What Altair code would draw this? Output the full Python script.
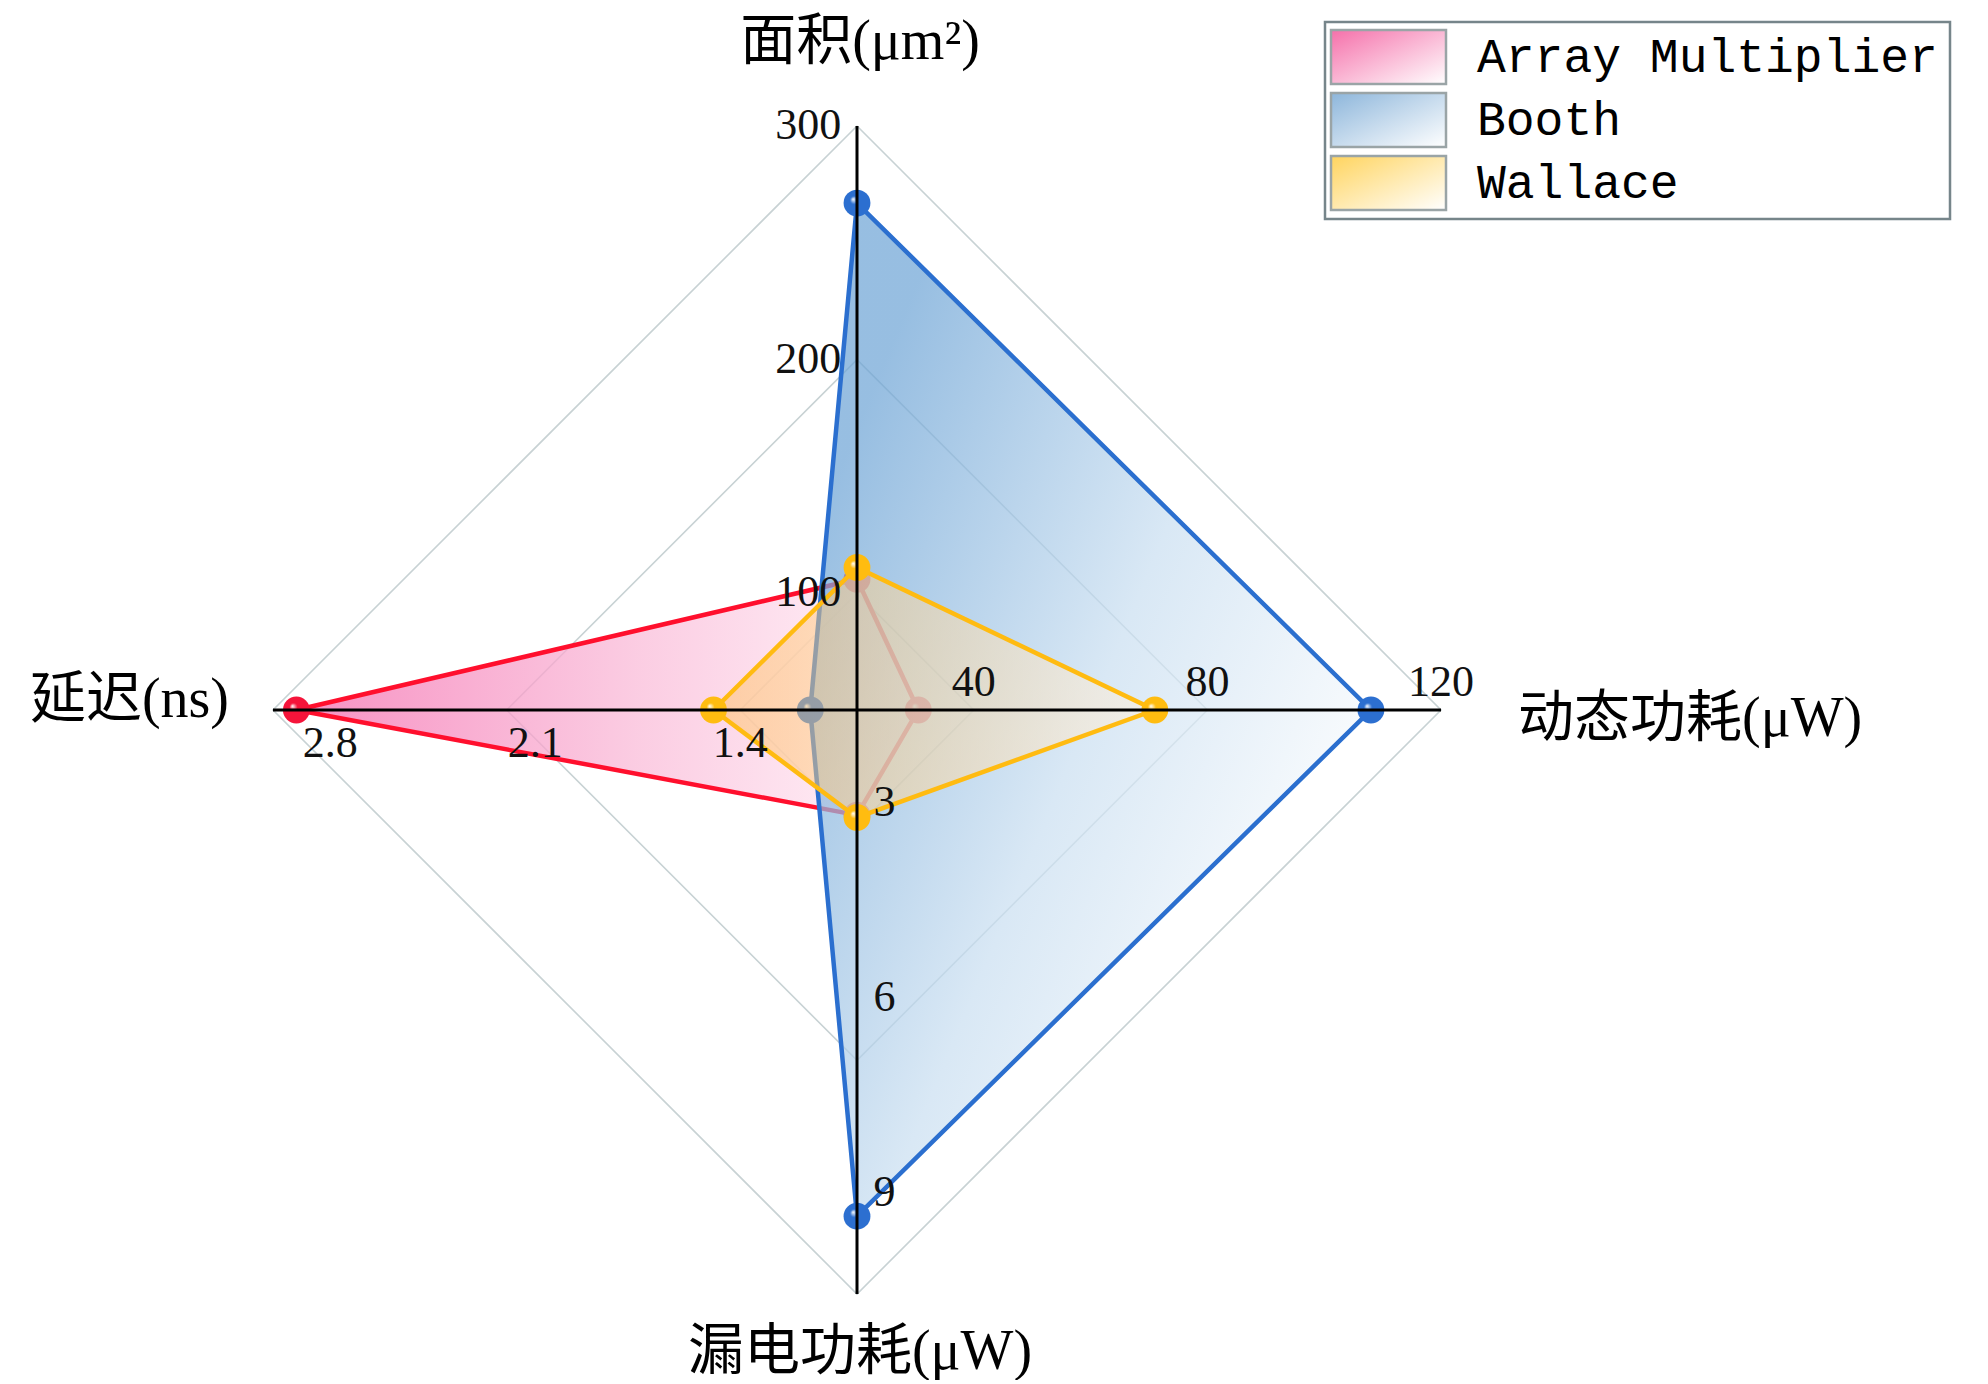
import math
import altair as alt
import pandas as pd

# ---------------- data ----------------
axis_titles = ["面积(μm²)", "动态功耗(μW)", "漏电功耗(μW)", "延迟(ns)"]
tick_area = [100, 200, 300]
tick_dynamic = [40, 80, 120]
tick_leakage = [3, 6, 9]
tick_delay = [1.4, 2.1, 2.8]

series_names = ["Array Multiplier", "Booth", "Wallace"]
area_vals = [106, 267, 111]
dynamic_vals = [30.5, 108, 71]
leakage_vals = [2.85, 8.0, 2.88]
delay_vals = [2.73, 1.19, 1.48]

# ---------------- layout / style ----------------
W, H = 1972, 1368
CX, CY, R = 849, 702, 584          # chart-pixel centre of radar and radius


def U(px):
    return (px - CX) / R


def V(py):
    return (CY - py) / R


def RX(x):  # reference (page) px -> unit
    return U(x - 8)


def RY(y):
    return V(y - 8)


xs = alt.Scale(domain=[U(0), U(W)], nice=False, zero=False)
ys = alt.Scale(domain=[V(H), V(0)], nice=False, zero=False)


def X(f="x"):
    return alt.X(f"{f}:Q", scale=xs, axis=None)


def Y(f="y"):
    return alt.Y(f"{f}:Q", scale=ys, axis=None)


axes = {
    "area": dict(ticks=tick_area, vals=area_vals, ang=90, title=axis_titles[0]),
    "dynamic": dict(ticks=tick_dynamic, vals=dynamic_vals, ang=0, title=axis_titles[1]),
    "leakage": dict(ticks=tick_leakage, vals=leakage_vals, ang=270, title=axis_titles[2]),
    "delay": dict(ticks=tick_delay, vals=delay_vals, ang=180, title=axis_titles[3]),
}


def norm(v, ticks):
    step = ticks[1] - ticks[0]
    lo = ticks[0] - step / 2.0
    return (v - lo) / (ticks[-1] - lo)


def pos(key, r):
    a = math.radians(axes[key]["ang"])
    return r * math.cos(a), r * math.sin(a)


ring_order = ["area", "dynamic", "leakage", "delay", "area"]
outline_order = ["delay", "area", "dynamic", "leakage", "delay"]

FONT_SERIF = "Liberation Serif"
FONT_TITLE = "Liberation Serif, Noto Sans CJK SC"
FONT_MONO = "Liberation Mono"

line_cols = ["#FF0F2D", "#2B6FCF", "#FFBB11"]
point_cols = ["#F5143A", "#2C6FD0", "#FFBC10"]
fill_grads = [
    {"gradient": "linear", "x1": 0, "y1": 0.5, "x2": 1, "y2": 0.5,
     "stops": [{"offset": 0, "color": "#F46CAE"}, {"offset": 0.55, "color": "#FABCD9"},
               {"offset": 1, "color": "#FFF0F7"}]},
    {"gradient": "linear", "x1": 0.1, "y1": 0.2, "x2": 0.9, "y2": 0.8,
     "stops": [{"offset": 0, "color": "#6FA5D6"}, {"offset": 0.5, "color": "#CADFF1"},
               {"offset": 1, "color": "#FFFFFF"}]},
    {"gradient": "linear", "x1": 0, "y1": 0.5, "x2": 1, "y2": 0.5,
     "stops": [{"offset": 0, "color": "#FFC060"}, {"offset": 1, "color": "#FFF1E0"}]},
]
fill_opac = [0.75, 0.72, 0.5]
legend_grads = [
    {"gradient": "linear", "x1": 0, "y1": 0, "x2": 1, "y2": 1,
     "stops": [{"offset": 0, "color": "#F570AA"}, {"offset": 1, "color": "#FFFFFF"}]},
    {"gradient": "linear", "x1": 0, "y1": 0, "x2": 1, "y2": 1,
     "stops": [{"offset": 0, "color": "#8DB6DB"}, {"offset": 1, "color": "#FFFFFF"}]},
    {"gradient": "linear", "x1": 0, "y1": 0, "x2": 1, "y2": 1,
     "stops": [{"offset": 0, "color": "#FFD45E"}, {"offset": 1, "color": "#FFFFFF"}]},
]

layers = []

# ---- grid rings ----
rows = []
for k, t in enumerate(tick_area):
    frac = norm(t, tick_area)
    for o, key in enumerate(ring_order):
        x, y = pos(key, frac)
        rows.append(dict(ring=k, o=o, x=x, y=y))
layers.append(
    alt.Chart(pd.DataFrame(rows)).mark_line(color="#C8D2D4", strokeWidth=1.6).encode(
        x=X(), y=Y(), detail="ring:N", order="o:Q")
)

# ---- series ----
for i, name in enumerate(series_names):
    r = {k: norm(axes[k]["vals"][i], axes[k]["ticks"]) for k in axes}
    poly = pd.DataFrame([
        dict(x=-r["delay"], y=0.0, y2=0.0),
        dict(x=0.0, y=r["area"], y2=-r["leakage"]),
        dict(x=r["dynamic"], y=0.0, y2=0.0),
    ])
    layers.append(
        alt.Chart(poly).mark_area(color=fill_grads[i], fillOpacity=fill_opac[i]).encode(
            x=X(), y=alt.Y("y:Q", scale=ys, axis=None, stack=None), y2="y2:Q")
    )
    orows = []
    for o, key in enumerate(outline_order):
        x, y = pos(key, r[key])
        orows.append(dict(o=o, x=x, y=y))
    odf = pd.DataFrame(orows)
    layers.append(
        alt.Chart(odf).mark_line(color=line_cols[i], strokeWidth=4.5).encode(
            x=X(), y=Y(), order="o:Q")
    )
    pgrad = {"gradient": "radial", "x1": 0.35, "y1": 0.35, "r1": 0, "x2": 0.5, "y2": 0.5, "r2": 0.5,
             "stops": [{"offset": 0, "color": "#FFFFFF"}, {"offset": 0.3, "color": point_cols[i]},
                       {"offset": 1, "color": point_cols[i]}]}
    layers.append(
        alt.Chart(odf.iloc[:4]).mark_point(filled=True, shape="circle", size=720,
                                           color=pgrad, opacity=1).encode(x=X(), y=Y())
    )

# ---- axis lines ----
arows = []
for key in axes:
    x, y = pos(key, 1.0)
    arows.append(dict(x=0.0, y=0.0, x2=x, y2=y))
layers.append(
    alt.Chart(pd.DataFrame(arows)).mark_rule(color="#000000", strokeWidth=3).encode(
        x=X(), y=Y(), x2="x2:Q", y2="y2:Q")
)

# ---- tick labels ----
def fmt(t):
    return f"{t:g}"

lab_area = pd.DataFrame([dict(x=-0.027, y=norm(t, tick_area), t=fmt(t)) for t in tick_area])
lab_dyn = pd.DataFrame([dict(x=norm(t, tick_dynamic), y=0.024, t=fmt(t)) for t in tick_dynamic])
lab_del = pd.DataFrame([dict(x=-(0.8775 * norm(t, tick_delay) + 0.0245), y=-0.058, t=fmt(t))
                        for t in tick_delay])
lab_leak = pd.DataFrame([dict(x=0.047, y=-(0.835 * norm(t, tick_leakage) - 0.008), t=fmt(t))
                         for t in tick_leakage])
for df, al, bl in [(lab_area, "right", "middle"), (lab_dyn, "center", "alphabetic"),
                   (lab_del, "center", "middle"), (lab_leak, "center", "middle")]:
    layers.append(
        alt.Chart(df).mark_text(font=FONT_SERIF, fontSize=44, align=al, baseline=bl,
                                color="#111111").encode(x=X(), y=Y(), text="t:N")
    )

# ---- axis titles ----
title_off = {"area": 84 / R, "dynamic": 77 / R, "leakage": 58 / R, "delay": 44 / R}
title_align = {"area": "center", "dynamic": "left", "leakage": "center", "delay": "right"}
title_shift = {"area": (3 / R, 0), "dynamic": (0, -9 / R), "leakage": (3 / R, 0), "delay": (0, 10 / R)}
for key in axes:
    x, y = pos(key, 1.0 + title_off[key])
    dx, dy = title_shift[key]
    df = pd.DataFrame([dict(x=x + dx, y=y + dy, t=axes[key]["title"])])
    layers.append(
        alt.Chart(df).mark_text(font=FONT_TITLE, fontSize=56, align=title_align[key],
                                baseline="middle", color="#000000").encode(x=X(), y=Y(), text="t:N")
    )

# ---- legend ----
box = pd.DataFrame([dict(x=RX(1325), x2=RX(1950), y=RY(22), y2=RY(219))])
layers.append(
    alt.Chart(box).mark_rect(fill="#FFFFFF", stroke="#76858A", strokeWidth=2.5).encode(
        x=X(), x2="x2:Q", y=Y(), y2="y2:Q")
)
for i, name in enumerate(series_names):
    top = 30 + i * 63
    sw = pd.DataFrame([dict(x=RX(1331), x2=RX(1446), y=RY(top), y2=RY(top + 54))])
    layers.append(
        alt.Chart(sw).mark_rect(color=legend_grads[i], stroke="#9AA4A6", strokeWidth=2.5).encode(
            x=X(), x2="x2:Q", y=Y(), y2="y2:Q")
    )
    tx = pd.DataFrame([dict(x=RX(1477), y=RY(top + 28), t=name)])
    layers.append(
        alt.Chart(tx).mark_text(font=FONT_MONO, fontSize=48, align="left", baseline="middle",
                                color="#000000").encode(x=X(), y=Y(), text="t:N")
    )

chart = alt.layer(*layers).properties(
    width=W, height=H, padding=0, background="#FFFFFF"
).configure_view(stroke=None)

chart.save("out.html", embed_options={"renderer": "svg", "actions": False})
